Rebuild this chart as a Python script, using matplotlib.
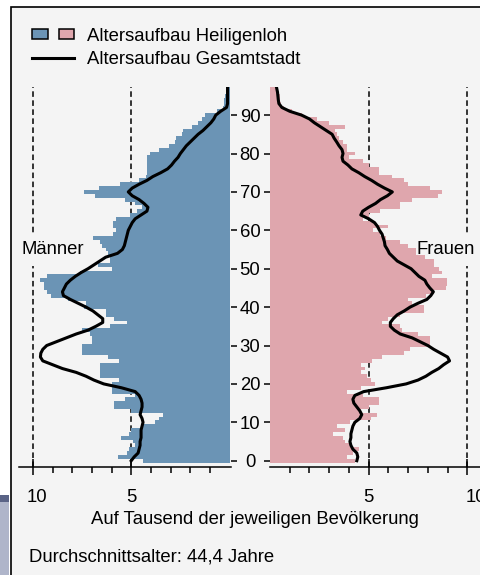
# -*- coding: utf-8 -*-
"""
Alterspyramide Heiligenloh vs. Gesamtstadt (Promille je Altersjahr).
"""

import matplotlib.pyplot as plt
from matplotlib.patches import Rectangle, Patch
from matplotlib.lines import Line2D
from matplotlib.legend_handler import HandlerTuple
from matplotlib.transforms import ScaledTranslation

plt.rcParams['font.family'] = ['Liberation Sans', 'DejaVu Sans']
plt.rcParams['font.size'] = 13.3
plt.rcParams['lines.scale_dashes'] = False


# ------------ DATA ------------------------------------------

ages = list(range(98))

# Heiligenloh, men, per age 0..97 [per mille]
men_bars = [4.4, 5.65, 5.2, 5.1, 4.8, 4.9, 5.5, 5.1, 5.0, 4.4,
            3.8, 3.6, 3.4, 5.0, 5.9, 5.9, 5.3, 4.8, 6.0, 6.0,
            6.0, 5.6, 6.6, 6.6, 6.6, 6.6, 5.6, 6.2, 7.5, 7.5,
            7.5, 7.0, 7.0, 7.1, 7.5, 6.1, 5.2, 5.9, 6.3, 6.3,
            7.4, 7.3, 8.2, 9.1, 9.3, 9.45, 9.45, 9.65, 9.3, 7.6,
            6.0, 6.7, 6.1, 6.1, 6.2, 6.3, 6.5, 6.6, 6.95, 5.95,
            5.8, 5.95, 5.95, 5.8, 5.05, 4.7, 4.45, 4.8, 5.3, 6.85,
            7.4, 6.65, 5.55, 4.6, 4.25, 4.2, 4.2, 4.2, 4.2, 4.2,
            4.05, 3.6, 3.1, 2.75, 2.7, 2.4, 2.35, 1.9, 1.6, 1.4,
            1.25, 0.65, 0.35, 0.3, 0.3, 0.25, 0.2, 0.2]

# Heiligenloh, women, per age 0..97 [per mille]
women_bars = [4.3, 3.9, 4.2, 4.5, 4.1, 3.8, 3.7, 3.2, 3.8, 3.4,
              4.05, 5.1, 5.4, 4.6, 5.0, 5.5, 5.5, 4.7, 3.9, 4.6,
              5.3, 5.1, 4.9, 4.6, 4.8, 4.6, 5.15, 5.7, 6.8, 7.1,
              8.1, 8.1, 8.1, 7.5, 6.7, 6.6, 5.7, 6.0, 6.6, 7.8,
              7.8, 7.2, 7.0, 7.9, 8.3, 8.9, 8.95, 8.95, 8.2, 8.7,
              8.55, 8.3, 8.3, 7.85, 7.4, 7.4, 7.0, 6.6, 5.9, 5.6,
              5.2, 6.0, 5.3, 4.7, 5.0, 5.6, 6.6, 6.6, 7.2, 8.5,
              8.7, 8.1, 7.0, 6.8, 6.2, 5.5, 5.5, 5.0, 4.7, 4.0,
              4.3, 3.9, 3.9, 3.7, 3.5, 3.4, 3.3, 3.8, 3.0, 2.4,
              1.6, 1.1, 0.7, 0.55, 0.5, 0.5, 0.4, 0.4]

# Gesamtstadt, men
men_line = [5.0, 4.85, 4.65, 4.6, 4.55, 4.55, 4.5, 4.5, 4.5, 4.45,
            4.4, 4.45, 4.55, 4.5, 4.45, 4.45, 4.5, 4.6, 4.8, 5.5,
            6.4, 6.9, 7.3, 7.8, 8.5, 9.0, 9.5, 9.62, 9.6, 9.5,
            9.3, 8.8, 8.3, 7.8, 7.2, 6.8, 6.45, 6.45, 6.7, 6.95,
            7.3, 7.7, 8.1, 8.45, 8.5, 8.4, 8.3, 8.1, 7.85, 7.55,
            7.2, 6.9, 6.6, 6.3, 5.7, 5.45, 5.35, 5.3, 5.25, 5.2,
            5.15, 5.05, 4.95, 4.8, 4.5, 4.2, 4.15, 4.35, 4.6, 4.95,
            5.15, 4.95, 4.6, 4.2, 3.9, 3.5, 3.15, 2.95, 2.8, 2.62,
            2.5, 2.35, 2.2, 2.0, 1.8, 1.6, 1.35, 1.15, 0.95, 0.8,
            0.7, 0.45, 0.15, 0.1, 0.1, 0.1, 0.1, 0.1]

# Gesamtstadt, women
women_line = [4.4, 4.45, 4.4, 4.2, 4.1, 4.05, 4.1, 4.1, 4.15, 4.2,
              4.3, 4.55, 4.65, 4.55, 4.4, 4.25, 4.2, 4.3, 4.75, 5.9,
              6.9, 7.5, 7.9, 8.2, 8.55, 8.8, 9.1, 9.0, 8.65, 8.3,
              8.0, 7.6, 7.2, 6.6, 6.3, 6.1, 6.1, 6.25, 6.45, 6.8,
              7.1, 7.5, 7.95, 8.15, 8.28, 8.1, 7.95, 7.85, 7.55, 7.35,
              7.15, 6.8, 6.45, 6.25, 6.05, 5.95, 5.83, 5.8, 5.74, 5.68,
              5.55, 5.45, 5.3, 5.0, 4.6, 4.7, 5.0, 5.35, 5.6, 5.95,
              6.2, 5.8, 5.45, 5.15, 4.8, 4.5, 4.15, 3.95, 3.7, 3.65,
              3.7, 3.65, 3.5, 3.38, 3.25, 3.15, 2.85, 2.55, 2.25, 2.0,
              1.6, 1.0, 0.6, 0.45, 0.42, 0.4, 0.38, 0.34]

age_ticks = [0, 10, 20, 30, 40, 50, 60, 70, 80, 90]
x_major = [5, 10]
x_minor = [1, 2, 3, 4, 6, 7, 8, 9]

BLUE = '#6b94b5'
PINK = '#dfa6ad'
BG = '#f4f4f4'
W, H = 480, 575


# ------------ FIGURE -----------------------

fig = plt.figure(figsize=(W / 100, H / 100), dpi=100)
fig.patch.set_facecolor('white')

# grey panel with black frame (only left/top edge visible)
fig.add_artist(Rectangle((10.5 / W, -0.1), 1.2, 1.1 - 7.5 / H,
                         transform=fig.transFigure, facecolor=BG,
                         edgecolor='black', linewidth=1.2, zorder=-10))
# bit of neighbouring page element at the bottom left
fig.add_artist(Rectangle((0, 0), 9 / W, (H - 495) / H,
                         transform=fig.transFigure, facecolor='#afb5ca',
                         edgecolor='none', zorder=-9))
fig.add_artist(Rectangle((0, (H - 502) / H), 9 / W, 7 / H,
                         transform=fig.transFigure, facecolor='#5a6386',
                         edgecolor='none', zorder=-9))

ax_l = fig.add_axes([19 / W, 108.3 / H, 211.7 / W, 380 / H])
ax_r = fig.add_axes([270 / W, 108.3 / H, 220 / W, 380 / H])

ax_l.barh(ages, men_bars, height=1.0, color=BLUE, linewidth=0, zorder=2)
ax_r.barh(ages, women_bars, height=1.0, color=PINK, linewidth=0, zorder=2)
ax_l.plot(men_line, ages, color='black', lw=2.2, zorder=3)
ax_r.plot(women_line, ages, color='black', lw=2.2, zorder=3)

for ax in (ax_l, ax_r):
    ax.patch.set_visible(False)
    for s in ('top', 'left', 'right'):
        ax.spines[s].set_visible(False)
    ax.spines['bottom'].set_linewidth(1.1)
    for v in x_major:
        ax.axvline(v, color='black', lw=1.1, dashes=(4, 2.5), zorder=1)
    ax.set_ylim(-1.56, 97.4)
    ax.set_yticks(age_ticks)
    ax.set_xticks(x_major)
    ax.set_xticklabels([str(v) for v in x_major])
    ax.set_xticks(x_minor, minor=True)
    ax.tick_params(axis='x', which='major', direction='inout', length=12,
                   width=1.1, pad=10)
    ax.tick_params(axis='x', which='minor', direction='out', length=4.5,
                   width=1.1)

ax_l.set_xlim(10.71, -0.06)
ax_r.set_xlim(0, 11.15)

# the "10" labels sit a little right of their ticks in the original
for ax, dx in ((ax_l, 4), (ax_r, 9)):
    lbl = ax.get_xticklabels()[1]
    lbl.set_transform(lbl.get_transform()
                      + ScaledTranslation(dx / 100, 0, fig.dpi_scale_trans))

ax_l.yaxis.tick_right()
ax_l.tick_params(axis='y', direction='out', length=4.3, width=1.1,
                 labelright=False)
ax_r.tick_params(axis='y', direction='out', length=4.3, width=1.1, pad=10.1)
for lbl in ax_r.get_yticklabels():
    lbl.set_horizontalalignment('center')

box = dict(facecolor=BG, edgecolor='none', pad=6)
ax_l.text(8.98, 55, 'Männer', ha='center', va='center', bbox=box,
          zorder=1.5)
ax_r.text(8.92, 55, 'Frauen', ha='center', va='center', bbox=box,
          zorder=1.5)

# legend
h_bars = (Patch(facecolor=BLUE, edgecolor='black', lw=1.1),
          Patch(facecolor=PINK, edgecolor='black', lw=1.1))
h_line = Line2D([], [], color='black', lw=2.2)
fig.legend([h_bars, h_line],
           ['Altersaufbau Heiligenloh', 'Altersaufbau Gesamtstadt'],
           handler_map={tuple: HandlerTuple(ndivide=None, pad=0.6)},
           loc='upper left', bbox_to_anchor=(32 / W, 1 - 28 / H),
           frameon=False, borderpad=0, borderaxespad=0,
           handlelength=2.3, handleheight=0.45, handletextpad=0.68,
           labelspacing=0.33)

fig.text(255 / W, 1 - 519 / H, 'Auf Tausend der jeweiligen Bevölkerung',
         ha='center', va='center')
fig.text(29 / W, 1 - 556.7 / H, 'Durchschnittsalter: 44,4 Jahre',
         ha='left', va='center')

fig.savefig('out.png', dpi=100)
